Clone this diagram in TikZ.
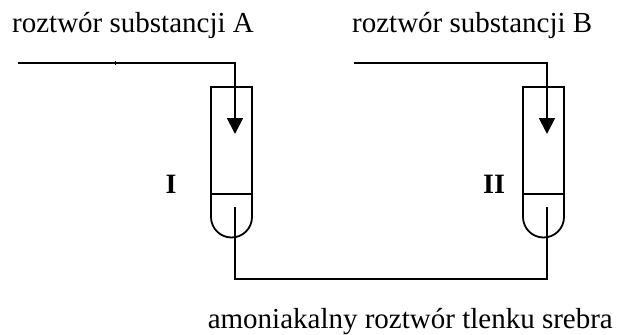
\documentclass[tikz,border=0pt]{standalone}
\usepackage{fontspec}
\setmainfont{Liberation Serif}
\usetikzlibrary{arrows.meta}
\begin{document}
\begin{tikzpicture}[x=1pt,y=-1pt,
  wire/.style={line width=1.8pt},
  flow/.style={wire,-{Triangle[length=16pt,width=16pt]}},
  lbl/.style={font=\fontsize{29}{32}\selectfont,inner sep=0pt},
  num/.style={font=\fontsize{28}{31}\selectfont\bfseries,inner sep=0pt}]
\useasboundingbox (0,0) rectangle (617,334);
% labels
\node[lbl,anchor=base west] (ta) at (12,33) {roztwór substancji A};
\node[lbl,anchor=base west] (tb) at (352,33) {roztwór substancji B};
\node[lbl,anchor=base east] (tc) at (613,328) {amoniakalny roztwór tlenku srebra};
\node[num,anchor=base] (n1) at (171,193) {I};
\node[num,anchor=base] (n2) at (494,193) {II};
% tubes
\foreach \cx/\nm in {231.5/t1,543.5/t2}{
  \coordinate (\nm) at (\cx,0);
  \draw[wire] (\cx-20.5,217) -- (\cx-20.5,87) -- (\cx+20.5,87) -- (\cx+20.5,217)
     arc[start angle=0,end angle=180,radius=20.5] ;
  \draw[wire] (\cx-20.5,194) -- (\cx+20.5,194);
}
% inlet lines
\coordinate (a0) at (18,63);
\coordinate (a1) at (235,63);
\coordinate (a2) at (235,134);
\coordinate (b0) at (354,63);
\coordinate (b1) at (547,63);
\coordinate (b2) at (547,134);
\draw[flow] (a0) -- (a1) -- (a2);
\draw[flow] (b0) -- (b1) -- (b2);
\draw[line width=2.8pt] (67,63) -- (91,63);
\draw[line width=0.8pt] (115,61) -- (115,65);
% outlet
\coordinate (c0) at (235,207);
\coordinate (c1) at (235,279);
\coordinate (c2) at (547,279);
\coordinate (c3) at (547,207);
\draw[wire] (c0) -- (c1) -- (c2) -- (c3);
\end{tikzpicture}
\end{document}
